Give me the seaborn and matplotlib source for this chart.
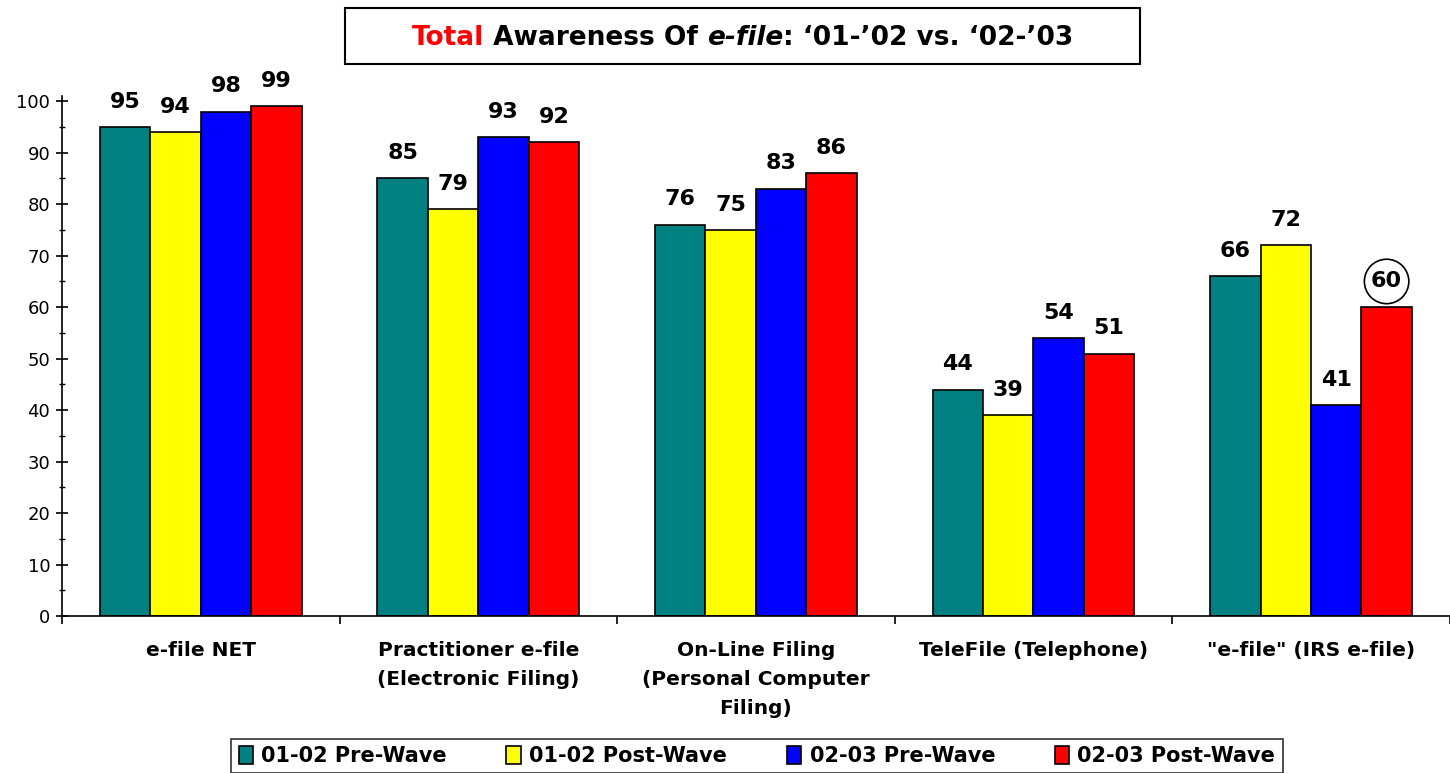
import matplotlib
matplotlib.use("Agg")
import matplotlib.pyplot as plt
import seaborn as sns
import pandas as pd
import numpy as np

# chart data
categories = ["e-file NET", "Practitioner e-file\n(Electronic Filing)",
              "On-Line Filing\n(Personal Computer\nFiling)", "TeleFile (Telephone)",
              "\"e-file\" (IRS e-file)"]
waves = ["01-02 Pre-Wave", "01-02 Post-Wave", "02-03 Pre-Wave", "02-03 Post-Wave"]
pre_0102 = [95, 85, 76, 44, 66]
post_0102 = [94, 79, 75, 39, 72]
pre_0203 = [98, 93, 83, 54, 41]
post_0203 = [99, 92, 86, 51, 60]
colors = ["#008080", "#FFFF00", "#0000FF", "#FF0000"]

rows = []
for w, vals in zip(waves, [pre_0102, post_0102, pre_0203, post_0203]):
    for c, v in zip(categories, vals):
        rows.append({"cat": c, "wave": w, "pct": v})
df = pd.DataFrame(rows)

sns.set_style("ticks")
plt.rcParams['font.family'] = ['DejaVu Sans']
plt.rcParams.update({"text.color": "black", "xtick.color": "black", "ytick.color": "black",
                     "axes.edgecolor": "black", "xtick.labelcolor": "black",
                     "ytick.labelcolor": "black"})

fig = plt.figure(figsize=(14.5, 7.73), dpi=100)
ax = fig.add_axes([0.0428, 0.203, 0.957, 0.666])

sns.barplot(data=df, x="cat", y="pct", hue="wave", order=categories, hue_order=waves,
            palette=colors, width=0.727, edgecolor="black", linewidth=1.2,
            saturation=1, ax=ax, legend=True)

# value labels
for i, cont in enumerate(ax.containers):
    for j, bar in enumerate(cont):
        h = bar.get_height()
        x = bar.get_x() + bar.get_width() / 2
        if i == 3 and j == 4:
            ax.text(x, h + 5, f"{int(h)}", ha="center", va="center", fontsize=16,
                    fontweight="bold",
                    bbox=dict(boxstyle="circle,pad=0.3", fc="white", ec="black", lw=1.2))
        else:
            ax.text(x, h + 3, f"{int(h)}", ha="center", va="bottom", fontsize=16,
                    fontweight="bold")

ax.set_ylim(0, 100)
ax.set_xlim(-0.5, 4.5)
ax.set_yticks(np.arange(0, 101, 10))
ax.set_yticks(np.arange(0, 101, 5), minor=True)
ax.tick_params(axis="y", which="major", direction="inout", length=9, width=1.2,
               labelsize=13, pad=4)
ax.tick_params(axis="y", which="minor", direction="inout", length=5, width=1)
ax.set_xticks(np.arange(len(categories)))
ax.set_xticklabels(categories, fontsize=14.5, fontweight="bold", linespacing=1.65)
ax.set_xticks(np.arange(-0.5, 5, 1), minor=True)
ax.tick_params(axis="x", which="major", length=0, pad=18)
ax.tick_params(axis="x", which="minor", direction="out", length=6, width=1.2)
ax.set_xlabel("")
ax.set_ylabel("")
for s in ["top", "right"]:
    ax.spines[s].set_visible(False)
ax.spines["left"].set_linewidth(1.2)
ax.spines["bottom"].set_linewidth(1.2)
ax.spines["left"].set_bounds(0, 101)

# legend
handles, labels = ax.get_legend_handles_labels()
ax.legend_.remove()
leg = fig.legend(handles, labels, loc="lower center", bbox_to_anchor=(0.522, -0.014),
                 ncol=4, frameon=True, fancybox=False, edgecolor="black",
                 prop={"weight": "bold", "size": 15}, handlelength=0.7, handleheight=0.9,
                 columnspacing=2.85, handletextpad=0.4, borderpad=0.35)
leg.get_frame().set_linewidth(1.2)

# title box
fig.patches.append(matplotlib.patches.Rectangle((345 / 1450, 1 - 64 / 773), 795 / 1450, 56 / 773,
                                                transform=fig.transFigure, fc="white",
                                                ec="black", lw=1.5))

# compose title pieces
fig.canvas.draw()
r = fig.canvas.get_renderer()
pieces = [("Total", "red", "normal"), (" Awareness Of ", "black", "normal"),
          ("e-file", "black", "italic"), (": \u201801-\u201902 vs. \u201802-\u201903", "black", "normal")]
objs = []
for txt, col, sty in pieces:
    o = fig.text(0, 0.951, txt, color=col, fontsize=19, fontweight="bold", style=sty,
                 ha="left", va="center")
    objs.append(o)
widths = [o.get_window_extent(r).width for o in objs]
total = sum(widths)
x0 = (742.5 - total / 2) / 1450
for o, w in zip(objs, widths):
    o.set_x(x0)
    x0 += w / 1450

fig.savefig("out.png", dpi=100)
